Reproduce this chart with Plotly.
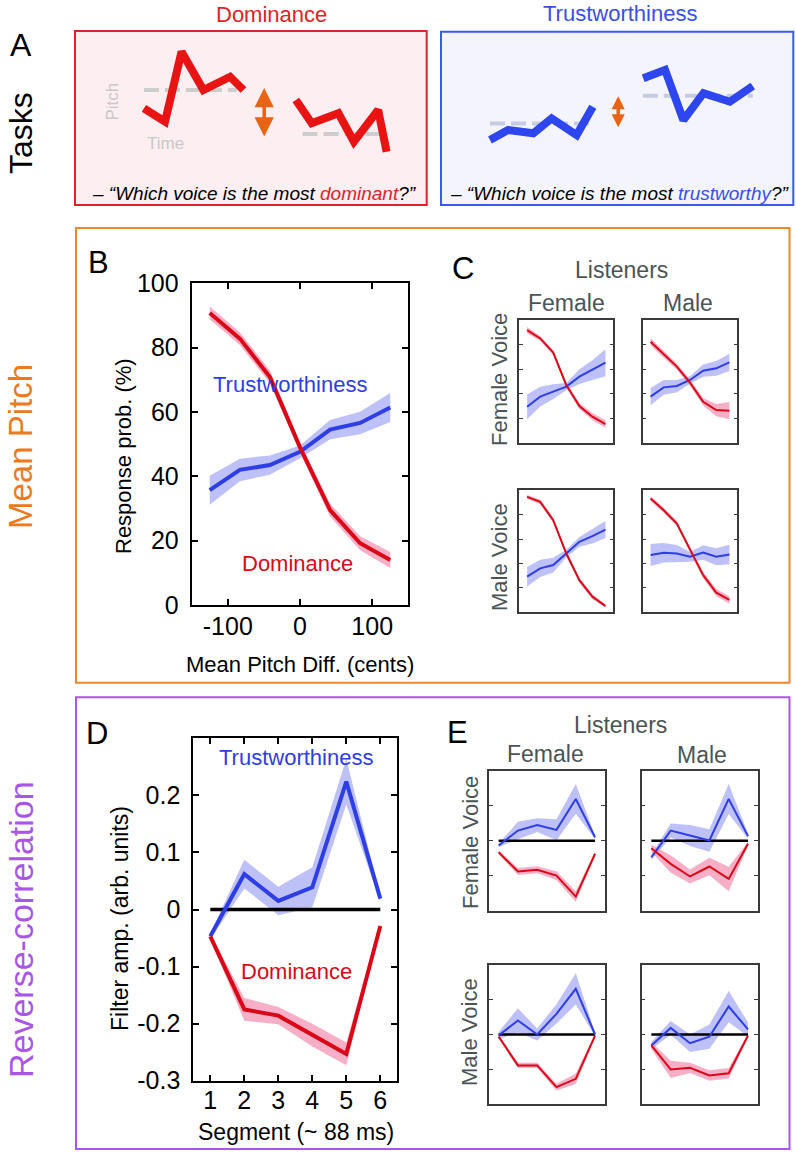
import plotly.graph_objects as go

W, H = 796, 1153
FONT = "Liberation Sans, Arial, Helvetica, sans-serif"
RED = "rgb(218,8,22)"
RED_BAND = "rgba(240,110,155,0.55)"
BLUE = "rgb(45,62,228)"
BLUE_BAND = "rgba(125,130,242,0.50)"
GRAY_TXT = "#4b5454"
ORANGE = "#e8892a"
PURPLE = "#a956e8"

# ---------------- data ----------------
# Panel B: mean pitch difference (cents)
pitch_x = [-125, -83.3, -41.7, 0, 41.7, 83.3, 125]
B_dom = [90.8, 82.8, 70.9, 49.0, 29.5, 19.2, 14.0]
B_dom_err = [2.0, 2.0, 2.0, 1.5, 2.0, 2.2, 2.5]
B_tru = [35.7, 42.0, 43.5, 47.6, 54.5, 56.6, 61.4]
B_tru_err = [4.5, 3.5, 3.0, 2.0, 3.0, 3.5, 4.5]

# Panel C: voice gender x listener gender
C_dom_FF = [91.8, 85.0, 73.4, 47.0, 29.9, 21.2, 15.2]
C_dom_FF_err = [2.5, 2, 2, 2, 2.5, 3, 3]
C_tru_FF = [29.3, 37.5, 41.6, 45.7, 53.8, 59.2, 65.2]
C_tru_FF_err = [10, 8, 6, 3, 6, 8, 11]
C_dom_FM = [82.3, 72.0, 62.0, 48.9, 33.4, 26.6, 26.1]
C_dom_FM_err = [3, 2.5, 2.5, 2.5, 3, 5, 7]
C_tru_FM = [37.5, 45.1, 46.2, 51.1, 58.7, 60.6, 65.5]
C_tru_FM_err = [7, 6, 5, 3, 5, 6, 7]
C_dom_MF = [94.6, 90.5, 75.5, 48.2, 26.4, 12.8, 5.2]
C_dom_MF_err = [1.5, 2, 2, 2, 2, 2, 1.5]
C_tru_MF = [29.2, 36.0, 38.7, 48.2, 57.8, 62.4, 67.8]
C_tru_MF_err = [8, 7, 6, 3, 4, 6, 7]
C_dom_MM = [93.2, 83.7, 72.8, 51.0, 30.5, 16.1, 10.1]
C_dom_MM_err = [2, 2, 2, 2, 2.5, 3, 3]
C_tru_MM = [46.9, 48.8, 48.2, 45.5, 49.0, 45.5, 47.4]
C_tru_MM_err = [9, 8, 7, 4, 6, 7, 8]

# Panel D: reverse-correlation filters
segments = [1, 2, 3, 4, 5, 6]
D_tru = [-0.047, 0.062, 0.015, 0.039, 0.224, 0.019]
D_tru_err = [0.005, 0.025, 0.025, 0.035, 0.04, 0.005]
D_dom = [-0.047, -0.175, -0.186, -0.22, -0.253, -0.029]
D_dom_err = [0.005, 0.02, 0.015, 0.02, 0.02, 0.005]

# Panel E
E_tru_FF = [-0.027, 0.059, 0.09, 0.063, 0.24, 0.021]
E_tru_FF_err = [0.01, 0.05, 0.04, 0.06, 0.085, 0.01]
E_dom_FF = [-0.065, -0.176, -0.166, -0.199, -0.319, -0.074]
E_dom_FF_err = [0.01, 0.02, 0.02, 0.025, 0.03, 0.01]
E_tru_FM = [-0.094, 0.059, 0.031, 0.002, 0.24, 0.027]
E_tru_FM_err = [0.015, 0.04, 0.06, 0.065, 0.086, 0.015]
E_dom_FM = [-0.042, -0.132, -0.204, -0.147, -0.218, -0.017]
E_dom_FM_err = [0.02, 0.05, 0.04, 0.05, 0.07, 0.01]
E_tru_MF = [-0.006, 0.081, 0.0, 0.119, 0.263, 0.0]
E_tru_MF_err = [0.02, 0.07, 0.035, 0.055, 0.09, 0.01]
E_dom_MF = [-0.012, -0.178, -0.178, -0.303, -0.255, -0.006]
E_dom_MF_err = [0.01, 0.015, 0.015, 0.02, 0.03, 0.01]
E_tru_MM = [-0.063, 0.038, -0.05, -0.012, 0.161, 0.029]
E_tru_MM_err = [0.02, 0.04, 0.05, 0.07, 0.09, 0.04]
E_dom_MM = [-0.063, -0.201, -0.192, -0.236, -0.223, -0.006]
E_dom_MM_err = [0.02, 0.05, 0.03, 0.03, 0.03, 0.01]

# Panel A illustration: schematic pitch contours (arbitrary units)
A_dom_t1 = [19.6, 25.6, 30.3, 36.5, 44.1, 47.9]
A_dom_p1 = [55.6, 47.9, 88.1, 66.1, 73.7, 66.1]
A_dom_mean1_t = [19.6, 46.0]
A_dom_mean1_p = [66.1, 66.1]
A_dom_t2 = [62.8, 67.3, 74.9, 79.3, 86.2, 88.6]
A_dom_p2 = [60.3, 47.0, 52.7, 36.4, 54.6, 30.6]
A_dom_mean2_t = [64.7, 86.7]
A_dom_mean2_p = [40.8, 40.8]
A_tru_t1 = [13.9, 19.1, 26.2, 31.4, 38.5, 43.1]
A_tru_p1 = [37.5, 43.3, 41.4, 50.0, 40.4, 56.7]
A_tru_mean1_t = [13.9, 43.1]
A_tru_mean1_p = [47.1, 47.1]
A_tru_t2 = [57.4, 63.6, 68.8, 74.5, 82.0, 88.5]
A_tru_p2 = [73.1, 77.9, 49.0, 64.5, 59.6, 68.7]
A_tru_mean2_t = [57.3, 88.5]
A_tru_mean2_p = [63.1, 63.1]


def dx(p):
    return p / W


def dy(p):
    return 1 - p / H


fig = go.Figure()


def band(x, y, e, color, n):
    xs = list(x) + list(x)[::-1]
    ys = [a + b for a, b in zip(y, e)] + [a - b for a, b in zip(y, e)][::-1]
    fig.add_trace(go.Scatter(x=xs, y=ys, fill="toself", fillcolor=color, mode="lines",
                             line=dict(width=0), hoverinfo="skip", showlegend=False,
                             xaxis="x" + n, yaxis="y" + n))


def line(x, y, color, width, n, dash=None):
    fig.add_trace(go.Scatter(x=x, y=y, mode="lines",
                             line=dict(color=color, width=width, dash=dash),
                             hoverinfo="skip", showlegend=False,
                             xaxis="x" + n, yaxis="y" + n))


layout_axes = {}


def set_axes(n, xd, yd, xa, ya):
    key = "" if n == "1" else n
    xa = dict(xa)
    ya = dict(ya)
    xa.update(domain=[dx(xd[0]), dx(xd[1])], anchor="y" + key, automargin=False)
    ya.update(domain=[dy(yd[1]), dy(yd[0])], anchor="x" + key, automargin=False)
    layout_axes["xaxis" + key] = xa
    layout_axes["yaxis" + key] = ya


# ---------------- Panel B ----------------
band(pitch_x, B_tru, B_tru_err, BLUE_BAND, "")
band(pitch_x, B_dom, B_dom_err, RED_BAND, "")
line(pitch_x, B_tru, BLUE, 4, "")
line(pitch_x, B_dom, RED, 4, "")
main_x = dict(range=[-150, 150], tickvals=[-100, 0, 100], ticktext=["-100", "0", "100"],
              ticks="inside", ticklen=6, tickwidth=1.5, tickcolor="black",
              showline=True, linewidth=2, linecolor="black", mirror="allticks",
              showgrid=False, zeroline=False, tickfont=dict(size=25, color="black"),
              ticklabelstandoff=-2, fixedrange=True)
main_y = dict(range=[0, 100], tickvals=[0, 20, 40, 60, 80, 100],
              ticktext=["0", "20", "40", "60", "80", "100"],
              ticks="inside", ticklen=6, tickwidth=1.5, tickcolor="black",
              showline=True, linewidth=2, linecolor="black", mirror="allticks",
              showgrid=False, zeroline=False, tickfont=dict(size=25, color="black"),
              ticklabelstandoff=6, fixedrange=True)
set_axes("1", (191.7, 408.3), (283.3, 605), main_x, main_y)

# ---------------- Panel C ----------------
small_x = dict(range=[-150, 150], showticklabels=False, ticks="", showline=True,
               linewidth=1.5, linecolor="#3a3a3a", mirror=True, showgrid=False,
               zeroline=False, fixedrange=True)
small_yC = dict(range=[0, 100], tickvals=[20, 40, 60, 80], showticklabels=False,
                ticks="inside", ticklen=4, tickwidth=1, tickcolor="#3a3a3a",
                showline=True, linewidth=1.5, linecolor="#3a3a3a", mirror="allticks",
                showgrid=False, zeroline=False, fixedrange=True)
C_sets = [
    ("2", (519.3, 613.3), (320, 442.7), C_dom_FF, C_dom_FF_err, C_tru_FF, C_tru_FF_err),
    ("3", (642.7, 737.3), (320, 442.7), C_dom_FM, C_dom_FM_err, C_tru_FM, C_tru_FM_err),
    ("4", (519.3, 613.3), (490.3, 612.3), C_dom_MF, C_dom_MF_err, C_tru_MF, C_tru_MF_err),
    ("5", (642.7, 737.3), (490.3, 612.3), C_dom_MM, C_dom_MM_err, C_tru_MM, C_tru_MM_err),
]
for n, xd, yd, dom, dome, tru, true_ in C_sets:
    band(pitch_x, tru, true_, BLUE_BAND, n)
    band(pitch_x, dom, dome, RED_BAND, n)
    line(pitch_x, tru, BLUE, 2, n)
    line(pitch_x, dom, RED, 2, n)
    set_axes(n, xd, yd, small_x, small_yC)

# ---------------- Panel D ----------------
nD = "6"
band(segments, D_tru, D_tru_err, BLUE_BAND, nD)
band(segments, D_dom, D_dom_err, RED_BAND, nD)
line([segments[0], segments[-1]], [0, 0], "black", 3.5, nD)
line(segments, D_tru, BLUE, 4, nD)
line(segments, D_dom, RED, 4, nD)
D_x = dict(main_x)
D_x.update(range=[0.5, 6.5], tickvals=segments, ticktext=[str(s) for s in segments],
           ticklabelstandoff=-4)
D_y = dict(main_y)
D_y.update(range=[-0.3, 0.3], tickvals=[-0.3, -0.2, -0.1, 0, 0.1, 0.2, 0.3],
           ticktext=["-0.3", "-0.2", "-0.1", "0", "0.1", "0.2", ""])
set_axes(nD, (193.3, 397.3), (738.3, 1080.7), D_x, D_y)

# ---------------- Panel E ----------------
small_xE = dict(small_x)
small_xE.update(range=[0.5, 6.5])
small_yE = dict(small_yC)
small_yE.update(range=[-0.4, 0.4], tickvals=[-0.2, 0, 0.2])
E_sets = [
    ("7", (489, 604.7), (771, 910.7), E_dom_FF, E_dom_FF_err, E_tru_FF, E_tru_FF_err),
    ("8", (641.7, 757.7), (771, 910.7), E_dom_FM, E_dom_FM_err, E_tru_FM, E_tru_FM_err),
    ("9", (489, 604.7), (965, 1104), E_dom_MF, E_dom_MF_err, E_tru_MF, E_tru_MF_err),
    ("10", (641.7, 757.7), (965, 1104), E_dom_MM, E_dom_MM_err, E_tru_MM, E_tru_MM_err),
]
for n, xd, yd, dom, dome, tru, true_ in E_sets:
    band(segments, tru, true_, BLUE_BAND, n)
    band(segments, dom, dome, RED_BAND, n)
    line([segments[0], segments[-1]], [0, 0], "black", 2.5, n)
    line(segments, tru, BLUE, 2, n)
    line(segments, dom, RED, 2, n)
    set_axes(n, xd, yd, small_xE, small_yE)

# ---------------- Panel A (illustration) ----------------
hid = dict(range=[0, 100], visible=False, showgrid=False, zeroline=False, fixedrange=True)
set_axes("11", (75, 426.7), (31, 205), hid, hid)
set_axes("12", (441, 793.3), (31.7, 205), hid, hid)
MEAN_RED = "rgb(205,205,205)"
MEAN_BLUE = "rgb(196,203,226)"
line(A_dom_mean1_t, A_dom_mean1_p, MEAN_RED, 4, "11", dash="15px,6px")
line(A_dom_mean2_t, A_dom_mean2_p, MEAN_RED, 4, "11", dash="15px,6px")
line(A_dom_t1, A_dom_p1, "rgb(232,20,20)", 8, "11")
line(A_dom_t2, A_dom_p2, "rgb(232,20,20)", 8, "11")
line(A_tru_mean1_t, A_tru_mean1_p, MEAN_BLUE, 4, "12", dash="15px,6px")
line(A_tru_mean2_t, A_tru_mean2_p, MEAN_BLUE, 4, "12", dash="15px,6px")
line(A_tru_t1, A_tru_p1, "rgb(45,70,240)", 8, "12")
line(A_tru_t2, A_tru_p2, "rgb(45,70,240)", 8, "12")

# ---------------- boxes ----------------
shapes = [
    dict(type="rect", xref="paper", yref="paper", x0=dx(75), x1=dx(426.7), y0=dy(205), y1=dy(31),
         line=dict(color="rgb(222,35,40)", width=2), fillcolor="rgb(253,238,241)", layer="below"),
    dict(type="rect", xref="paper", yref="paper", x0=dx(441), x1=dx(793.3), y0=dy(205), y1=dy(31.7),
         line=dict(color="rgb(60,90,232)", width=2), fillcolor="rgb(244,245,252)", layer="below"),
    dict(type="rect", xref="paper", yref="paper", x0=dx(76), x1=dx(789.5), y0=dy(682.7), y1=dy(228),
         line=dict(color=ORANGE, width=2), fillcolor="rgba(0,0,0,0)", layer="below"),
    dict(type="rect", xref="paper", yref="paper", x0=dx(76), x1=dx(789.5), y0=dy(1149), y1=dy(697.3),
         line=dict(color=PURPLE, width=2), fillcolor="rgba(0,0,0,0)", layer="below"),
]

# ---------------- annotations ----------------
ann = []


def txt(x, y, s, size, color="black", angle=0):
    ann.append(dict(x=dx(x), y=dy(y), xref="paper", yref="paper", text=s, showarrow=False,
                    font=dict(size=size, color=color, family=FONT), textangle=angle,
                    xanchor="center", yanchor="middle"))


txt(271, 14, "Dominance", 22, "rgb(222,35,40)")
txt(620, 13.5, "Trustworthiness", 22, "rgb(55,80,232)")
txt(21, 45, "A", 32)
txt(21, 133, "Tasks", 32, angle=-90)
txt(21, 447, "Mean Pitch", 33, "rgb(236,122,28)", angle=-90)
txt(21, 930, "Reverse-correlation", 34, PURPLE, angle=-90)
txt(98, 262, "B", 31)
txt(463, 268, "C", 31)
txt(97, 733, "D", 31)
txt(457, 732, "E", 31)
txt(123, 456, "Response prob. (%)", 22, angle=-90)
txt(300, 664, "Mean Pitch Diff. (cents)", 22)
txt(120, 918, "Filter amp. (arb. units)", 23, angle=-90)
txt(296, 1132, "Segment (~ 88 ms)", 23)
# panel C headers
txt(621.7, 270, "Listeners", 23, GRAY_TXT)
txt(566.7, 303, "Female", 23, GRAY_TXT)
txt(688.3, 303, "Male", 23, GRAY_TXT)
txt(499, 380, "Female Voice", 22, GRAY_TXT, angle=-90)
txt(499, 557, "Male Voice", 22, GRAY_TXT, angle=-90)
# panel E headers
txt(620, 725, "Listeners", 23, GRAY_TXT)
txt(545, 754, "Female", 23, GRAY_TXT)
txt(701.7, 755, "Male", 23, GRAY_TXT)
txt(470, 842, "Female Voice", 22, GRAY_TXT, angle=-90)
txt(469, 1032, "Male Voice", 22, GRAY_TXT, angle=-90)
# questions
txt(254, 193, "<i>– “Which voice is the most <span style='color:rgb(222,35,40)'>dominant</span>?”</i>", 19)
txt(620, 193, "<i>– “Which voice is the most <span style='color:rgb(55,80,232)'>trustworthy</span>?”</i>", 19)

# in-axes labels
ann.append(dict(x=-14, y=68.4, xref="x", yref="y", text="Trustworthiness", showarrow=False,
                font=dict(size=22, color=BLUE, family=FONT)))
ann.append(dict(x=-3, y=13, xref="x", yref="y", text="Dominance", showarrow=False,
                font=dict(size=22, color=RED, family=FONT)))
ann.append(dict(x=3.53, y=0.266, xref="x6", yref="y6", text="Trustworthiness", showarrow=False,
                font=dict(size=22, color=BLUE, family=FONT)))
ann.append(dict(x=3.54, y=-0.108, xref="x6", yref="y6", text="Dominance", showarrow=False,
                font=dict(size=22, color=RED, family=FONT)))
# Panel A axis hints
ann.append(dict(x=10.8, y=59.4, xref="x11", yref="y11", text="Pitch", showarrow=False,
                textangle=-90, font=dict(size=17, color="rgb(200,200,200)", family=FONT)))
ann.append(dict(x=25.8, y=35.5, xref="x11", yref="y11", text="Time", showarrow=False,
                font=dict(size=17, color="rgb(200,200,200)", family=FONT)))
# orange double arrows
ann.append(dict(x=53.8, y=67.2, ax=53.8, ay=38.5, xref="x11", yref="y11", axref="x11", ayref="y11",
                text="", showarrow=True, arrowhead=2, arrowside="end+start", arrowsize=1.1,
                arrowwidth=3.5, arrowcolor="rgb(232,100,20)", standoff=0, startstandoff=0))
ann.append(dict(x=50.3, y=62.8, ax=50.3, ay=44.0, xref="x12", yref="y12", axref="x12", ayref="y12",
                text="", showarrow=True, arrowhead=2, arrowside="end+start", arrowsize=0.75,
                arrowwidth=3.5, arrowcolor="rgb(232,100,20)", standoff=0, startstandoff=0))

fig.update_layout(width=W, height=H, margin=dict(l=0, r=0, t=0, b=0, pad=0, autoexpand=False),
                  paper_bgcolor="white", plot_bgcolor="rgba(0,0,0,0)",
                  font=dict(family=FONT, color="black"), showlegend=False,
                  shapes=shapes, annotations=ann, **layout_axes)

fig.write_html("out.html", config={"displayModeBar": False},
               post_script="document.body.style.margin='0px';")
